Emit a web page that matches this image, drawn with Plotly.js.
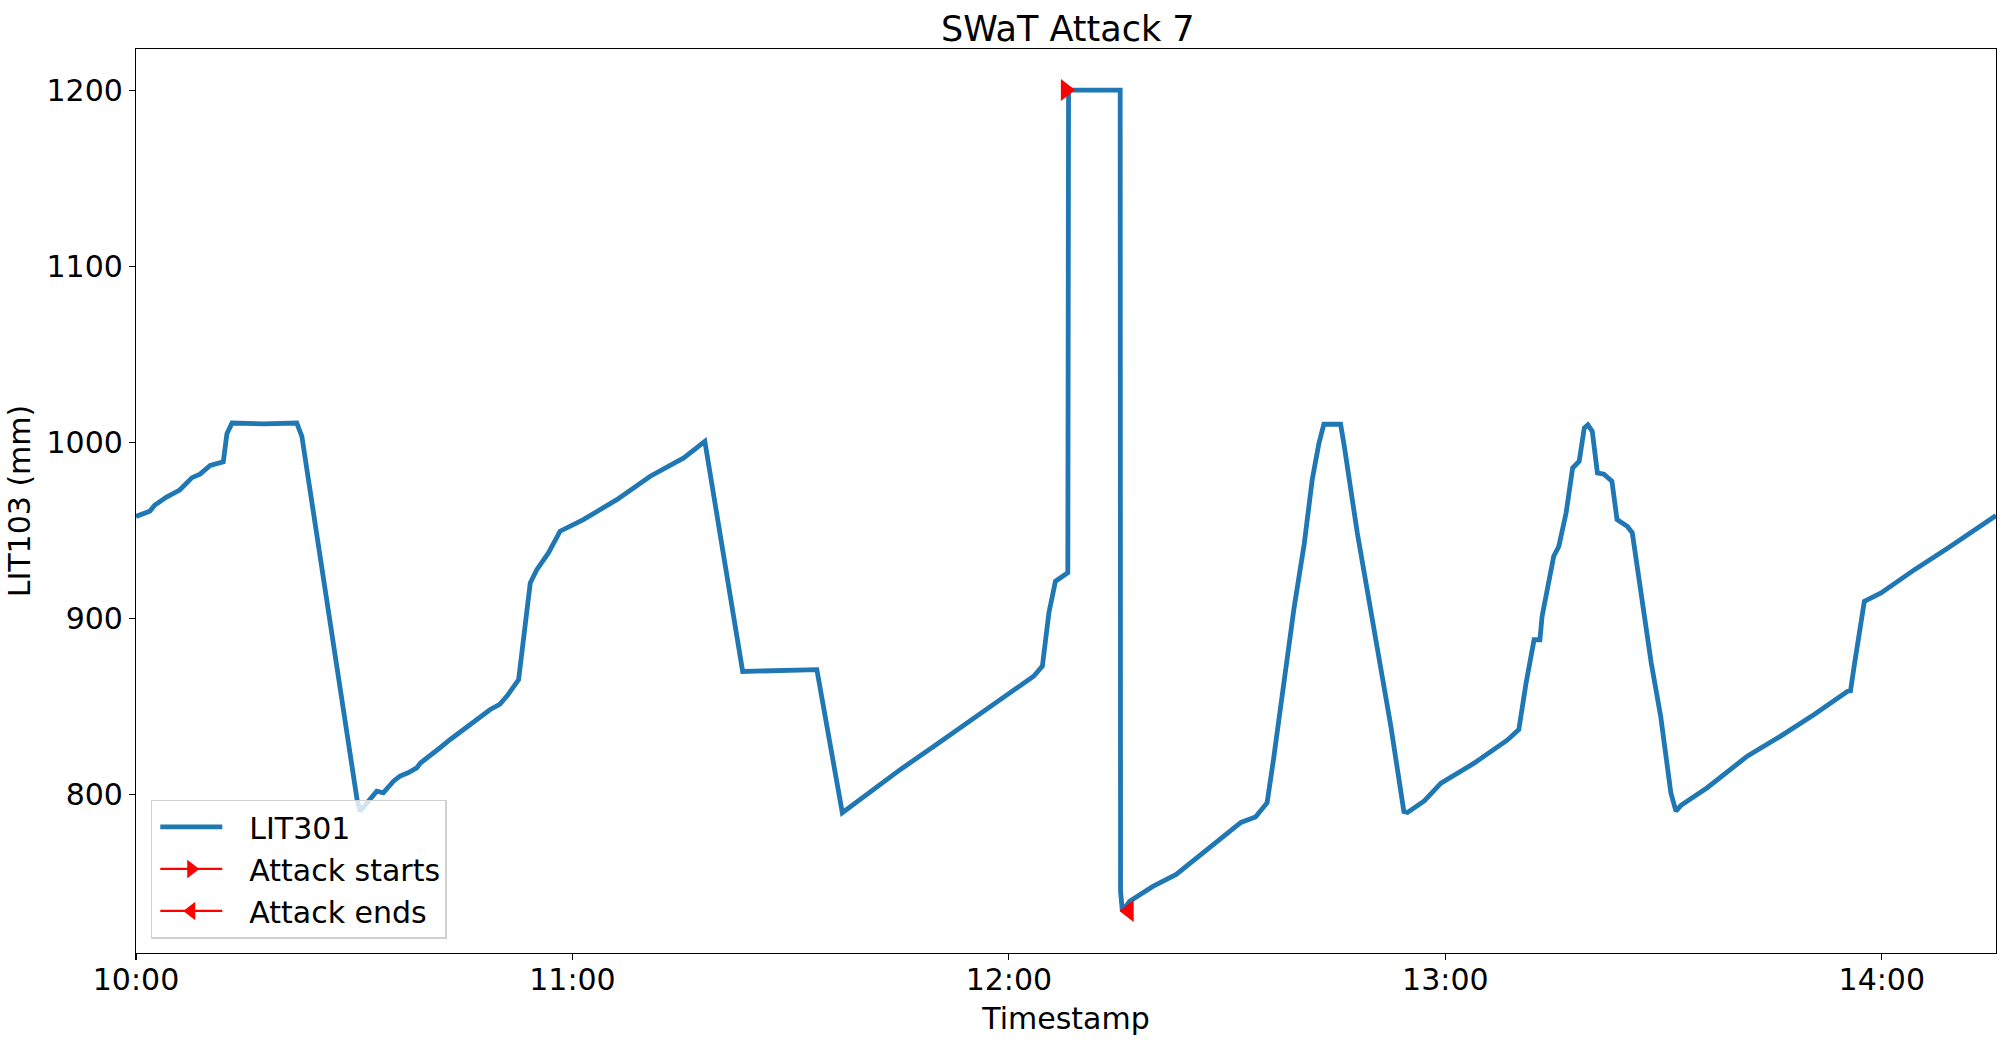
<!DOCTYPE html>
<html>
<head>
<meta charset="utf-8">
<script src="https://cdn.plot.ly/plotly-3.0.1.min.js"></script>
<style>html,body{margin:0;padding:0;background:#fff;}</style>
</head>
<body>
<div id="chart" style="width:2009px;height:1044px;"></div>
<script>
const day = "2015-12-28 ";
const times = [
"10:00:00","10:01:54","10:02:36","10:04:12","10:06:00","10:07:42","10:08:48","10:10:12","10:12:00","10:12:30",
"10:13:12","10:17:30","10:22:06","10:22:48","10:30:24","10:30:48","10:33:06","10:34:00","10:35:24","10:36:18",
"10:37:24","10:38:36","10:39:06","10:41:18","10:41:48","10:43:12","10:45:00","10:45:54","10:47:42","10:48:42",
"10:50:00","10:51:00","10:52:36","10:54:12","10:55:06","10:56:42","10:58:18","11:01:30","11:06:06",
"11:10:42","11:15:18","11:18:12","11:23:24","11:28:00","11:33:36","11:37:06","11:40:30","11:45:06","11:49:42",
"11:54:18","11:58:48","12:03:24","12:04:36","12:05:30","12:06:24","12:08:06","12:08:12","12:15:18","12:15:21",
"12:15:36","12:16:36","12:19:48","12:23:00","12:27:18","12:31:54","12:33:54","12:35:30","12:36:24","12:37:48",
"12:39:12","12:40:36","12:41:42","12:42:36","12:43:18","12:45:36","12:46:06","12:47:54","12:50:12","12:52:30",
"12:54:18","12:54:48","12:57:06","12:59:24","13:03:54","13:08:30","13:10:06","13:11:06","13:12:12","13:13:00",
"13:13:18","13:14:30","13:14:54","13:15:36","13:16:36","13:17:30","13:18:24","13:19:06","13:19:36","13:20:12",
"13:20:54","13:21:48","13:22:54","13:23:36","13:25:00","13:25:42","13:26:54","13:28:18","13:29:36","13:31:00",
"13:31:42","13:32:24","13:36:00","13:41:30","13:46:06","13:50:42","13:55:18","13:55:42","13:56:12","13:56:54",
"13:57:36","13:59:54","14:04:30","14:09:06","14:15:30","14:15:42"
];
const lit301 = [
958,961,964.5,969,973,980,982,987,989,1005,
1011,1010.5,1011,1003.5,797,790.7,802,801.1,807.7,810.6,
812.5,815.3,818,825.7,826.7,831.4,837,839.9,845.6,848.4,
851.3,856,865.4,920.3,927.8,937.3,949.6,956.2,967.5,
980.8,991.2,1000.6,870,870.5,871,789.8,800.2,814.4,827.6,
840.9,854.1,867.3,873,903.3,921.2,926,1200,1200,745,
734,739.6,748,754.8,769.2,784.3,787.4,795.5,820.8,863.4,
906,942.4,978.9,999.1,1010.3,1010.3,998,948.5,893.8,839.1,
790.5,790,796.5,806.6,817.8,831,837,863.5,888,888,
901.3,926,935.4,941,960,985.5,989.3,1008.2,1010,1006.3,
982.7,982,978,956.2,952.4,948.7,914.6,874.9,844.6,801.1,
790.7,794,804,821.9,833.3,845.6,858.8,859,873,892,
909.8,914.6,927.8,940.1,958.1,958.5
];
const attackStartTime = ["12:07:48"];
const attackStartValue = [1200];
const attackEndTime = ["12:16:30"];
const attackEndValue = [734];
const yTicks = [800, 900, 1000, 1100, 1200];

const toDate = a => a.map(t => day + t);

const font = "DejaVu Sans, sans-serif";
const traces = [
  {x: toDate(times), y: lit301, type: "scatter", mode: "lines", name: "LIT301",
   line: {color: "#1f77b4", width: 4.8}},
  {x: toDate(attackStartTime), y: attackStartValue, type: "scatter", mode: "lines+markers", name: "Attack starts",
   line: {color: "#ff0000", width: 2.2}, marker: {symbol: "triangle-right", size: 19, color: "#ff0000"}},
  {x: toDate(attackEndTime), y: attackEndValue, type: "scatter", mode: "lines+markers", name: "Attack ends",
   line: {color: "#ff0000", width: 2.2}, marker: {symbol: "triangle-left", size: 19, color: "#ff0000"}}
];

const axisCommon = {
  showline: true, linecolor: "#000", linewidth: 1.1, mirror: true,
  ticks: "outside", ticklen: 6, tickwidth: 1.1, tickcolor: "#000",
  showgrid: false, zeroline: false,
  tickfont: {family: font, size: 30, color: "#000"}
};

const layout = {
  width: 2009, height: 1044,
  margin: {l: 136, r: 13, t: 49, b: 91},
  paper_bgcolor: "#fff", plot_bgcolor: "#fff",
  font: {family: font, color: "#000"},
  title: {text: "SWaT Attack 7", font: {family: font, size: 35, color: "#000"},
          x: 0.5315, xanchor: "center", y: 0.972, yanchor: "middle", yref: "container"},
  showlegend: true,
  legend: {x: 0.008, y: 0.016, xanchor: "left", yanchor: "bottom",
           bgcolor: "rgba(255,255,255,0.8)", bordercolor: "#d0d0d0", borderwidth: 1.4,
           font: {family: font, size: 30, color: "#000"}, itemwidth: 87},
  xaxis: Object.assign({}, axisCommon, {
    type: "date",
    range: [day + "10:00:00", day + "14:15:42"],
    tick0: day + "10:00:00", dtick: 3600000, tickformat: "%H:%M",
    ticklabelstandoff: -6,
    title: {text: "Timestamp", font: {family: font, size: 30, color: "#000"}, standoff: 11}
  }),
  yaxis: Object.assign({}, axisCommon, {
    range: [710.2, 1223.3],
    tickvals: yTicks,
    ticktext: yTicks.map(String),
    title: {text: "LIT103 (mm)", font: {family: font, size: 30, color: "#000"}, standoff: 7}
  })
};

Plotly.newPlot("chart", traces, layout, {displayModeBar: false, staticPlot: true}).then(gd => {
  // lengthen legend line samples to match a matplotlib-style handle
  gd.querySelectorAll(".legend .legendlines path").forEach(p => p.setAttribute("d", "M8,0h62"));
  gd.querySelectorAll(".legend .legendpoints path.scatterpts").forEach(p => p.setAttribute("transform", "translate(39,0)"));
});
</script>
</body>
</html>
